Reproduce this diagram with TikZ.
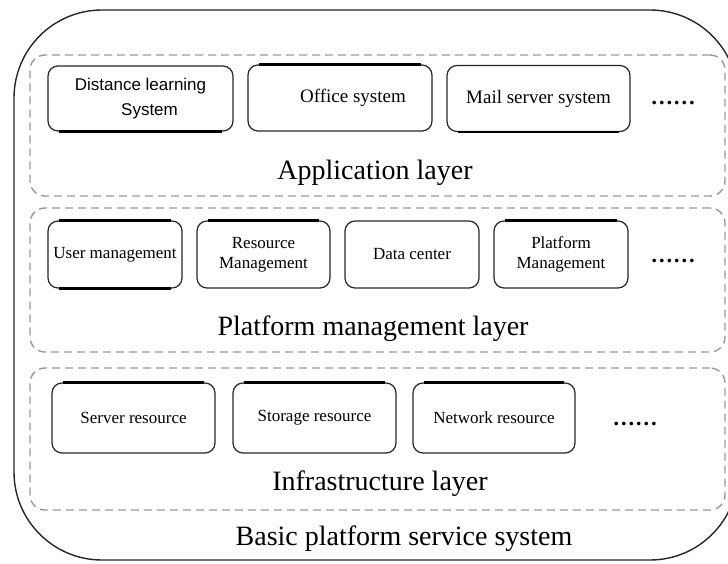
\documentclass[tikz,border=0pt]{standalone}
\usepackage{fontspec}
\setmainfont{Liberation Serif}
\newfontfamily\arialfont{Liberation Sans}
\begin{document}
\begin{tikzpicture}[x=1pt,y=-1pt,
  outerbox/.style={draw=black!85, line width=1.4pt, rounded corners=88pt, inner sep=0pt},
  layerbox/.style={draw=black!40, line width=1.4pt, dash pattern=on 8pt off 5pt, rounded corners=15pt, inner sep=0pt},
  sbox/.style={draw=black!85, line width=1.2pt, rounded corners=10pt, inner sep=0pt, align=center, font=\fontsize{17}{20}\selectfont},
  thickedge/.style={draw=black, line width=2.6pt},
  layertext/.style={font=\fontsize{28}{32}\selectfont, inner sep=0pt, anchor=base},
  dotstext/.style={font=\bfseries\fontsize{22.5}{26}\selectfont, inner sep=0pt, anchor=base}
]
\useasboundingbox (0,0) rectangle (728,563);
% outer box
\node[outerbox, minimum width=724pt, minimum height=550pt] (base) at (376,285) {};
% layers
\node[layerbox, minimum width=695pt, minimum height=141pt] (app) at (377.5,125.5) {};
\node[layerbox, minimum width=695pt, minimum height=144pt] (plat) at (377.5,280) {};
\node[layerbox, minimum width=695pt, minimum height=142pt] (infra) at (377.5,439) {};
% application layer boxes
\node[sbox, minimum width=185pt, minimum height=65pt, font=\arialfont\fontsize{17}{25}\selectfont] (dl) at (140.5,98.5) {Distance learning\\\hspace*{18pt}System};
\node[sbox, minimum width=184pt, minimum height=66pt, font=\fontsize{19}{22}\selectfont] (off) at (340,98) {\hspace*{26pt}Office system};
\node[sbox, minimum width=183pt, minimum height=66pt, font=\fontsize{19}{22}\selectfont] (mail) at (538.5,98.5) {Mail server system};
\node[dotstext] (d1) at (673,104) {……};
% platform layer boxes
\node[sbox, minimum width=134pt, minimum height=67pt] (um) at (115,254.5) {User management};
\node[sbox, minimum width=133pt, minimum height=67pt] (rm) at (263.5,254.5) {Resource\\Management};
\node[sbox, minimum width=134pt, minimum height=67pt] (dc) at (412,254.5) {Data center};
\node[sbox, minimum width=134pt, minimum height=67pt] (pm) at (561,254.5) {Platform\\Management};
\node[dotstext] (d2) at (673,262) {……};
% infrastructure layer boxes
\node[sbox, minimum width=163pt, minimum height=70pt] (sr) at (133.5,418) {Server resource};
\node[sbox, minimum width=163pt, minimum height=70pt] (st) at (314.5,418) {Storage resource};
\node[sbox, minimum width=162pt, minimum height=70pt] (nr) at (494,418) {Network resource};
\node[dotstext] (d3) at (635,425) {……};
% layer labels
\node[layertext] (appl) at (375,179) {Application layer};
\node[layertext] (platl) at (373,335) {Platform management layer};
\node[layertext] (infral) at (380,490) {Infrastructure layer};
\node[layertext] (basel) at (404,545) {Basic platform service system};
% thick edges (print artefacts of the original)
\draw[thickedge] ([xshift=12pt]dl.south west) -- ([xshift=-12pt]dl.south east);
\draw[thickedge] ([xshift=12pt]off.north west) -- ([xshift=-12pt]off.north east);
\draw[thickedge] ([xshift=12pt]mail.south west) -- ([xshift=-12pt]mail.south east);
\draw[thickedge] ([xshift=12pt]um.north west) -- ([xshift=-12pt]um.north east);
\draw[thickedge] ([xshift=12pt]um.south west) -- ([xshift=-12pt]um.south east);
\draw[thickedge] ([xshift=12pt]rm.north west) -- ([xshift=-12pt]rm.north east);
\draw[thickedge] ([xshift=12pt]pm.north west) -- ([xshift=-12pt]pm.north east);
\draw[thickedge] ([xshift=12pt]sr.north west) -- ([xshift=-12pt]sr.north east);
\draw[thickedge] ([xshift=12pt]st.north west) -- ([xshift=-12pt]st.north east);
\draw[thickedge] ([xshift=12pt]nr.north west) -- ([xshift=-12pt]nr.north east);
\end{tikzpicture}
\end{document}
